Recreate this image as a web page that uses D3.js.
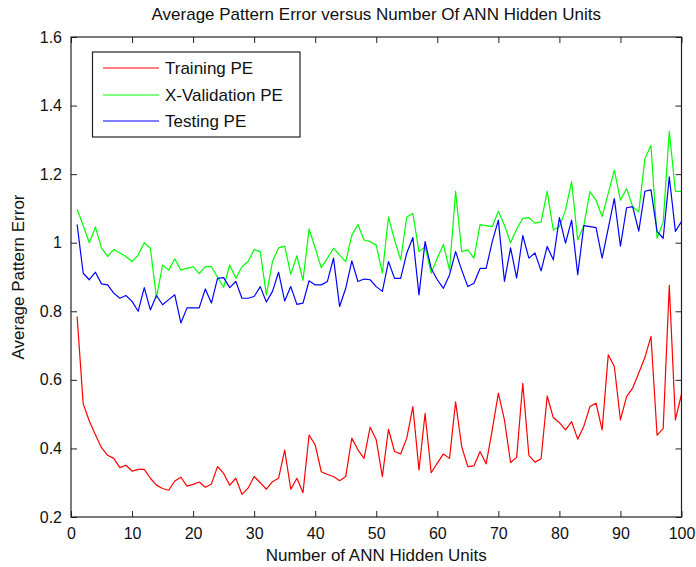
<!DOCTYPE html>
<html>
<head>
<meta charset="utf-8">
<script src="https://cdn.jsdelivr.net/npm/d3@7"></script>
<style>
  html, body { margin: 0; padding: 0; background: #fff; }
  svg { display: block; font-family: "Liberation Sans", Arial, sans-serif; }
</style>
</head>
<body>
<svg id="chart" width="696" height="567"></svg>
<script>
const hiddenUnits = [1,2,3,4,5,6,7,8,9,10,11,12,13,14,15,16,17,18,19,20,21,22,23,24,25,26,27,28,29,30,31,32,33,34,35,36,37,38,39,40,41,42,43,44,45,46,47,48,49,50,51,52,53,54,55,56,57,58,59,60,61,62,63,64,65,66,67,68,69,70,71,72,73,74,75,76,77,78,79,80,81,82,83,84,85,86,87,88,89,90,91,92,93,94,95,96,97,98,99,100];

const trainingPE = [0.785,0.530,0.480,0.440,0.402,0.380,0.371,0.344,0.351,0.334,
  0.339,0.339,0.313,0.293,0.283,0.278,0.305,0.316,0.290,0.295,
  0.302,0.287,0.296,0.347,0.327,0.293,0.313,0.266,0.284,0.318,
  0.300,0.281,0.303,0.313,0.395,0.281,0.313,0.271,0.439,0.410,
  0.332,0.324,0.318,0.306,0.318,0.430,0.396,0.371,0.462,0.425,
  0.318,0.456,0.391,0.384,0.430,0.522,0.337,0.502,0.329,0.357,
  0.384,0.371,0.536,0.405,0.347,0.349,0.391,0.355,0.454,0.561,
  0.483,0.359,0.374,0.590,0.380,0.360,0.370,0.553,0.490,0.475,
  0.454,0.478,0.427,0.465,0.522,0.532,0.454,0.673,0.639,0.483,
  0.551,0.576,0.620,0.665,0.727,0.439,0.458,0.876,0.483,0.558];

const validationPE = [1.098,1.050,1.000,1.046,0.984,0.960,0.980,0.970,0.960,0.945,
  0.964,1.000,0.984,0.840,0.935,0.920,0.953,0.920,0.925,0.930,
  0.910,0.930,0.930,0.900,0.870,0.935,0.896,0.930,0.945,0.980,
  0.974,0.848,0.945,0.985,0.990,0.908,0.962,0.890,1.040,0.984,
  0.927,0.955,0.984,0.964,0.945,1.022,1.053,1.008,1.003,0.993,
  0.911,1.075,1.008,0.950,1.075,1.085,0.974,0.988,0.911,0.955,
  0.995,0.920,1.150,0.974,0.979,0.955,1.053,1.050,1.047,1.092,
  1.051,1.000,1.040,1.071,1.073,1.057,1.060,1.150,1.037,1.047,
  1.095,1.178,1.008,1.050,1.149,1.124,1.076,1.144,1.212,1.124,
  1.158,1.105,1.090,1.244,1.284,1.013,1.060,1.325,1.150,1.150];

const testingPE = [1.053,0.911,0.892,0.914,0.880,0.877,0.853,0.838,0.846,0.829,
  0.800,0.869,0.804,0.846,0.819,0.834,0.848,0.766,0.810,0.810,
  0.810,0.865,0.824,0.896,0.898,0.869,0.887,0.838,0.838,0.843,
  0.872,0.827,0.858,0.914,0.830,0.872,0.820,0.824,0.889,0.877,
  0.877,0.887,0.955,0.814,0.867,0.947,0.887,0.894,0.892,0.872,
  0.858,0.945,0.896,0.896,0.970,1.015,0.848,1.003,0.925,0.892,
  0.867,0.906,0.974,0.920,0.872,0.882,0.925,0.925,1.003,1.066,
  0.887,0.985,0.897,1.021,0.955,0.970,0.918,0.989,0.950,1.073,
  0.999,1.066,0.907,1.050,1.047,1.044,0.955,1.042,1.129,0.990,
  1.102,1.105,1.034,1.150,1.154,1.033,1.013,1.192,1.033,1.062];

const seriesNames = ["Training PE", "X-Validation PE", "Testing PE"];
const seriesColors = ["#ff0000", "#00ff00", "#0000ff"];
const xTicks = [0,10,20,30,40,50,60,70,80,90,100];
const yTicks = [0.2,0.4,0.6,0.8,1.0,1.2,1.4,1.6];
const titleText = "Average Pattern Error versus Number Of ANN Hidden Units";
const xLabelText = "Number of ANN Hidden Units";
const yLabelText = "Average Pattern Error";

const svg = d3.select("#chart");
const W = 696, H = 567;
const margin = {left: 71, right: 14.5, top: 37, bottom: 50};
const iw = W - margin.left - margin.right;
const ih = H - margin.top - margin.bottom;

const x = d3.scaleLinear().domain([0, 100]).range([margin.left, margin.left + iw]);
const y = d3.scaleLinear().domain([0.2, 1.6]).range([margin.top + ih, margin.top]);

const fmt = v => (Math.abs(v - 1) < 1e-9 ? "1" : d3.format(".1f")(v));

// data lines
const series = [trainingPE, validationPE, testingPE];
const line = d3.line().x((d, i) => x(hiddenUnits[i])).y(d => y(d));
series.forEach((s, k) => {
  svg.append("path").datum(s)
    .attr("fill", "none")
    .attr("stroke", seriesColors[k])
    .attr("stroke-width", 1.2)
    .attr("stroke-linejoin", "round")
    .attr("d", line);
});

// axes
const tickLen = 6;
const gx = svg.append("g").attr("transform", `translate(0,${margin.top + ih})`)
  .call(d3.axisBottom(x).tickValues(xTicks).tickSizeInner(-tickLen).tickSizeOuter(0).tickPadding(11).tickFormat(d3.format("d")));
const gxTop = svg.append("g").attr("transform", `translate(0,${margin.top})`)
  .call(d3.axisTop(x).tickValues(xTicks).tickSizeInner(-tickLen).tickSizeOuter(0).tickFormat(""));
const gy = svg.append("g").attr("transform", `translate(${margin.left},0)`)
  .call(d3.axisLeft(y).tickValues(yTicks).tickSizeInner(-tickLen).tickSizeOuter(0).tickPadding(9).tickFormat(fmt));
const gyRight = svg.append("g").attr("transform", `translate(${margin.left + iw},0)`)
  .call(d3.axisRight(y).tickValues(yTicks).tickSizeInner(-tickLen).tickSizeOuter(0).tickFormat(""));

[gx, gxTop, gy, gyRight].forEach(g => {
  g.select(".domain").remove();
  g.selectAll(".tick line").attr("stroke", "#222");
  g.selectAll(".tick text").attr("font-size", 16).attr("fill", "#111")
    .style("font-family", '"Liberation Sans", Arial, sans-serif');
});

svg.append("rect")
  .attr("x", margin.left).attr("y", margin.top)
  .attr("width", iw).attr("height", ih)
  .attr("fill", "none").attr("stroke", "#222").attr("stroke-width", 1.2);

// title & labels
svg.append("text").attr("x", margin.left + iw / 2).attr("y", 20)
  .attr("text-anchor", "middle").attr("font-size", 17).attr("fill", "#111")
  .text(titleText);
svg.append("text").attr("x", margin.left + iw / 2).attr("y", 561)
  .attr("text-anchor", "middle").attr("font-size", 17).attr("fill", "#111")
  .text(xLabelText);
svg.append("text")
  .attr("transform", `translate(24,${margin.top + ih / 2}) rotate(-90)`)
  .attr("text-anchor", "middle").attr("font-size", 17).attr("fill", "#111")
  .text(yLabelText);

// legend
const lg = svg.append("g");
lg.append("rect").attr("x", 92.5).attr("y", 52).attr("width", 207.5).attr("height", 85)
  .attr("fill", "#fff").attr("stroke", "#222").attr("stroke-width", 1.2);
const rowY = [68, 95, 121];
seriesNames.forEach((name, k) => {
  lg.append("line").attr("x1", 103).attr("x2", 159).attr("y1", rowY[k]).attr("y2", rowY[k])
    .attr("stroke", seriesColors[k]).attr("stroke-width", 1.2);
  lg.append("text").attr("x", 165).attr("y", rowY[k]).attr("dy", "0.36em")
    .attr("font-size", 17).attr("fill", "#111").text(name);
});
</script>
</body>
</html>
